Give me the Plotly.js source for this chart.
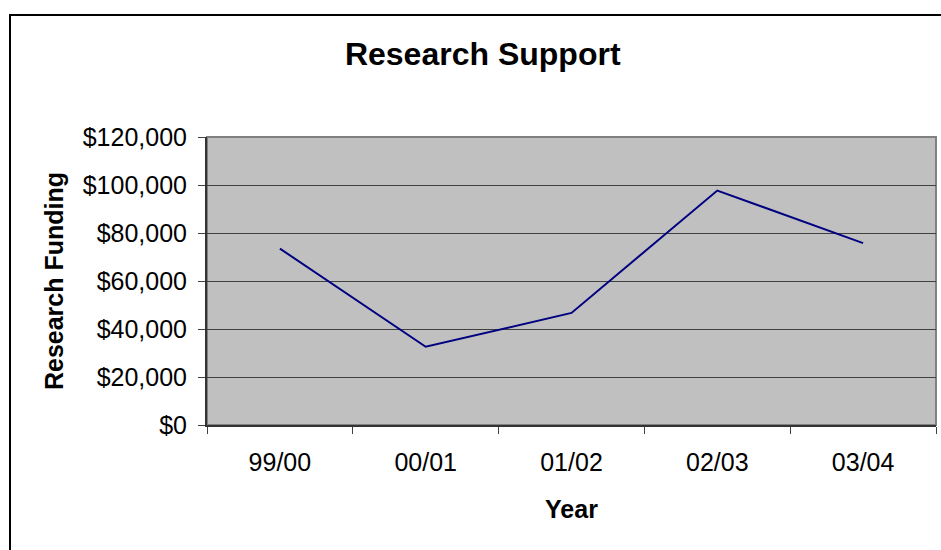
<!DOCTYPE html>
<html>
<head>
<meta charset="utf-8">
<script src="https://cdn.plot.ly/plotly-3.0.1.min.js"></script>
<style>
  html, body { margin: 0; padding: 0; background: #ffffff; }
  #chart { width: 941px; height: 550px; }
</style>
</head>
<body>
<div id="chart"></div>
<script>
const years = ["99/00", "00/01", "01/02", "02/03", "03/04"];
const funding = [73500, 32600, 46700, 97700, 75800];
const yTicks = [0, 20000, 40000, 60000, 80000, 100000, 120000];
const yTickLabels = ["$0", "$20,000", "$40,000", "$60,000", "$80,000", "$100,000", "$120,000"];

const FONT = "Liberation Sans, Arial, sans-serif";

const trace = {
  type: "scatter",
  mode: "lines",
  x: years,
  y: funding,
  line: { color: "#000080", width: 2 },
  hoverinfo: "x+y"
};

const layout = {
  width: 941,
  height: 550,
  margin: { l: 207, r: 5, t: 137, b: 125, pad: 0 },
  paper_bgcolor: "#ffffff",
  plot_bgcolor: "#c0c0c0",
  showlegend: false,
  font: { family: FONT, color: "#000000", size: 25 },
  title: {
    text: "<b>Research Support</b>",
    font: { family: FONT, size: 32, color: "#000000" },
    xref: "container", x: 0.513, xanchor: "center",
    yref: "container", y: 0.902, yanchor: "middle"
  },
  xaxis: {
    type: "category",
    range: [-0.5, 4.5],
    tickson: "boundaries",
    ticks: "outside",
    ticklen: 7,
    tickwidth: 1,
    tickcolor: "#404040",
    showline: true,
    linecolor: "#333333",
    linewidth: 2,
    showgrid: false,
    zeroline: false,
    tickfont: { family: FONT, size: 25, color: "#000000" },
    ticklabelstandoff: 14,
    automargin: false,
    title: {
      text: "<b>Year</b>",
      font: { family: FONT, size: 25, color: "#000000" },
      standoff: 25
    }
  },
  yaxis: {
    range: [0, 120000],
    tickmode: "array",
    tickvals: yTicks,
    ticktext: yTickLabels,
    ticks: "outside",
    ticklen: 7,
    tickwidth: 1,
    tickcolor: "#404040",
    showline: true,
    linecolor: "#333333",
    linewidth: 2,
    showgrid: true,
    gridcolor: "#404040",
    gridwidth: 1,
    zeroline: false,
    tickfont: { family: FONT, size: 25, color: "#000000" },
    ticklabelstandoff: 6,
    automargin: false,
    title: {
      text: "<b>Research Funding</b>",
      font: { family: FONT, size: 25, color: "#000000" },
      standoff: 12
    }
  },
  shapes: [
    {
      type: "rect", xref: "paper", yref: "paper",
      x0: 0, x1: 1, y0: 0, y1: 1,
      line: { color: "#808080", width: 2 },
      layer: "below"
    },
    {
      type: "rect", xref: "paper", yref: "paper",
      x0: (10 - 207) / 729, x1: (960 - 207) / 729,
      y0: (425 - 570) / 288, y1: (425 - 15) / 288,
      line: { color: "#000000", width: 2 },
      fillcolor: "rgba(0,0,0,0)",
      layer: "above"
    }
  ]
};

Plotly.newPlot("chart", [trace], layout, { displayModeBar: false, staticPlot: true });
</script>
</body>
</html>
